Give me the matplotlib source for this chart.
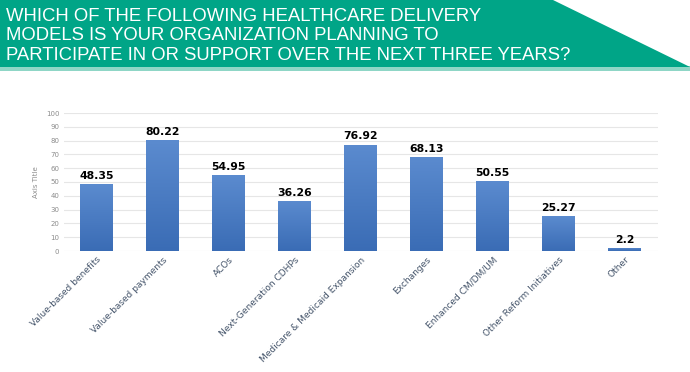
import matplotlib.pyplot as plt
from matplotlib.patches import Polygon, Rectangle
from matplotlib.colors import LinearSegmentedColormap
import numpy as np

categories = ['Value-based benefits', 'Value-based payments', 'ACOs', 'Next-Generation CDHPs',
              'Medicare & Medicaid Expansion', 'Exchanges', 'Enhanced CM/DM/UM',
              'Other Reform Initiatives', 'Other']
values = [48.35, 80.22, 54.95, 36.26, 76.92, 68.13, 50.55, 25.27, 2.2]
labels = ['48.35', '80.22', '54.95', '36.26', '76.92', '68.13', '50.55', '25.27', '2.2']
title_lines = ['WHICH OF THE FOLLOWING HEALTHCARE DELIVERY',
               'MODELS IS YOUR ORGANIZATION PLANNING TO',
               'PARTICIPATE IN OR SUPPORT OVER THE NEXT THREE YEARS?']

fig = plt.figure(figsize=(6.9, 3.72), dpi=100)
W, H = 690, 372

# banner
bg = fig.add_axes([0, 0, 1, 1])
bg.set_xlim(0, W)
bg.set_ylim(H, 0)
bg.axis('off')
bg.add_patch(Rectangle((0, 66), W, 5, color='#8fd6c6', lw=0))
bg.add_patch(Polygon([(0, 0), (553, 0), (690, 67), (0, 67)], closed=True,
                     color='#00a587', lw=0))
for i, line in enumerate(title_lines):
    bg.text(6, 16.5 + i * 19.5, line, color='white', fontsize=13.3,
            family='Liberation Sans', va='center', ha='left')

ax = fig.add_axes([63.5 / W, 1 - 251 / H, 594 / W, 138 / H])
x = np.arange(len(categories))
bars = ax.bar(x, values, width=0.5, color='#4677bd', zorder=2)

# vertical gradient fill like the original
cmap = LinearSegmentedColormap.from_list('bl', ['#3a6cb5', '#5b8bcf'])
grad = np.linspace(0, 1, 256).reshape(-1, 1)
for b in bars:
    bx, by, bw, bh = b.get_x(), b.get_y(), b.get_width(), b.get_height()
    im = ax.imshow(grad, cmap=cmap, origin='lower', aspect='auto',
                   extent=[bx, bx + bw, by, by + bh], zorder=3)
    im.set_clip_path(b)

for xi, v, lab in zip(x, values, labels):
    ax.text(xi, v + 2.5, lab, ha='center', va='bottom', fontsize=7.8,
            fontweight='bold', color='black')
ax.set_xlim(-0.5, len(categories) - 0.5)
ax.set_ylim(0, 100)
ax.set_yticks(np.arange(0, 101, 10))
ax.grid(axis='y', color='#e6e6e6', lw=0.8, zorder=0)
ax.tick_params(axis='y', length=0, labelsize=5, labelcolor='#8c8c8c', pad=3)
ax.tick_params(axis='x', length=0, pad=3)
ax.set_xticks(x)
ax.set_xticklabels(categories, rotation=45, ha='right', rotation_mode='anchor',
                   fontsize=6.5, color='#44546a')
for s in ax.spines.values():
    s.set_visible(False)
ax.set_ylabel('Axis Title', fontsize=5, color='#8c8c8c', labelpad=5)

fig.savefig('out.png', dpi=100)
